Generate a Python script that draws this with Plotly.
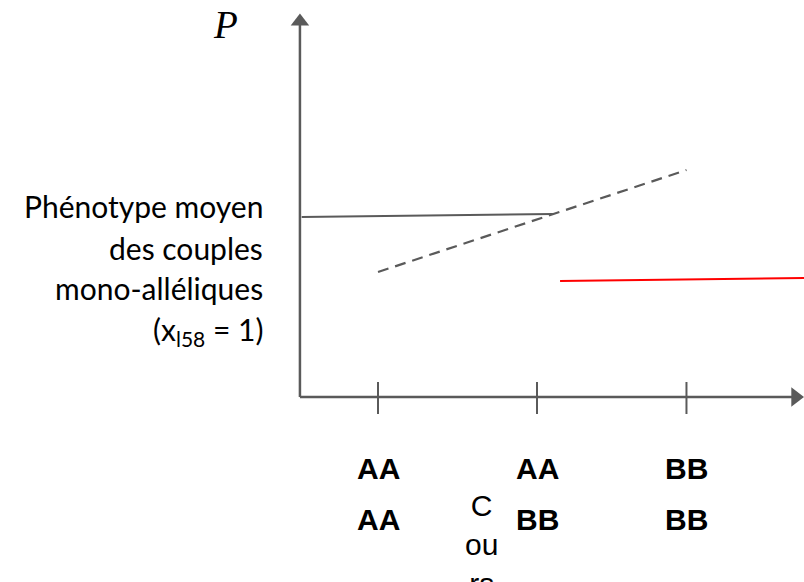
import plotly.graph_objects as go

# ---------------- data ----------------
genotype_x = [1.0, 2.0, 2.94]                 # positions of the three genotype classes
genotype_row1 = ["AA", "AA", "BB"]
genotype_row2 = ["AA", "BB", "BB"]

axis_origin = (0.509, 0.0)
x_axis_end = 3.626        # centre of the x arrow head
y_axis_end = 3.755        # centre of the y arrow head

solid_x = [0.52, 2.10]
solid_p = [1.80, 1.83]

dashed_x = [1.0, 2.94]
dashed_p = [1.25, 2.27]

red_x = [2.145, 3.68]
red_p = [1.16, 1.19]

tick_p = [0.15, -0.17]

ylabel_lines = ["Phénotype moyen", "des couples", "mono-alléliques",
                "(x<sub>l58</sub> = 1)"]
ylabel_p = [1.91, 1.49, 1.09, 0.66]
ylabel_x = 0.289

# ---------------- figure ----------------
GRAY = "#5a5a5a"
fig = go.Figure()

fig.add_trace(go.Scatter(x=solid_x, y=solid_p, mode="lines",
                         line=dict(color=GRAY, width=2), hoverinfo="skip"))
fig.add_trace(go.Scatter(x=dashed_x, y=dashed_p, mode="lines",
                         line=dict(color=GRAY, width=2.2, dash="11px,7px"),
                         hoverinfo="skip"))
fig.add_trace(go.Scatter(x=red_x, y=red_p, mode="lines", cliponaxis=False,
                         line=dict(color="#ff0000", width=2), hoverinfo="skip"))

# tick marks
tx, ty = [], []
for gx in genotype_x:
    tx += [gx, gx, None]
    ty += [tick_p[0], tick_p[1], None]
fig.add_trace(go.Scatter(x=tx, y=ty, mode="lines",
                         line=dict(color=GRAY, width=2), hoverinfo="skip"))

# axes
fig.add_trace(go.Scatter(x=[axis_origin[0], x_axis_end], y=[axis_origin[1], axis_origin[1]],
                         mode="lines", cliponaxis=False,
                         line=dict(color=GRAY, width=2.5), hoverinfo="skip"))
fig.add_trace(go.Scatter(x=[axis_origin[0], axis_origin[0]], y=[axis_origin[1], y_axis_end],
                         mode="lines", cliponaxis=False,
                         line=dict(color=GRAY, width=2.5), hoverinfo="skip"))
# arrow heads
fig.add_trace(go.Scatter(x=[x_axis_end], y=[axis_origin[1]], mode="markers", cliponaxis=False,
                         marker=dict(symbol="triangle-right", size=17, color=GRAY,
                                     line=dict(width=0)), hoverinfo="skip"))
fig.add_trace(go.Scatter(x=[axis_origin[0]], y=[y_axis_end], mode="markers", cliponaxis=False,
                         marker=dict(symbol="triangle-up", size=16, color=GRAY,
                                     line=dict(width=0)), hoverinfo="skip"))

annotations = []
lab_font = dict(family="Liberation Sans", size=30, color="black")
for gx, t1, t2 in zip(genotype_x, genotype_row1, genotype_row2):
    annotations.append(dict(x=gx, y=-0.71, xref="x", yref="y", text="<b>" + t1 + "</b>",
                            showarrow=False, font=lab_font,
                            xanchor="center", yanchor="middle"))
    annotations.append(dict(x=gx, y=-1.22, xref="x", yref="y", text="<b>" + t2 + "</b>",
                            showarrow=False, font=lab_font,
                            xanchor="center", yanchor="middle"))

annotations.append(dict(x=1.648, y=-1.47, xref="x", yref="y", text="C<br>ou<br>rs",
                        showarrow=False, align="center",
                        font=dict(family="Liberation Sans", size=30, color="black"),
                        xanchor="center", yanchor="middle"))

for txt, p in zip(ylabel_lines, ylabel_p):
    annotations.append(dict(x=ylabel_x, y=p, xref="x", yref="y", text=txt, showarrow=False,
                            font=dict(family="Lato", size=30, color="black"),
                            xanchor="right", yanchor="middle"))

annotations.append(dict(x=0.038, y=3.965, xref="x", yref="y", text="<i>P</i>", showarrow=False,
                        font=dict(family="Liberation Serif", size=39, color="black"),
                        xanchor="center", yanchor="top"))

fig.update_layout(
    width=804, height=582,
    margin=dict(l=0, r=0, t=0, b=0),
    paper_bgcolor="white", plot_bgcolor="white",
    showlegend=False,
    xaxis=dict(range=[-1.3774, 3.6792], visible=False, fixedrange=True),
    yaxis=dict(range=[-1.85, 3.97], visible=False, fixedrange=True),
    annotations=annotations,
)

fig.write_html("out.html", config={"displayModeBar": False},
               post_script="document.body.style.margin='0';document.body.style.overflow='hidden';")
